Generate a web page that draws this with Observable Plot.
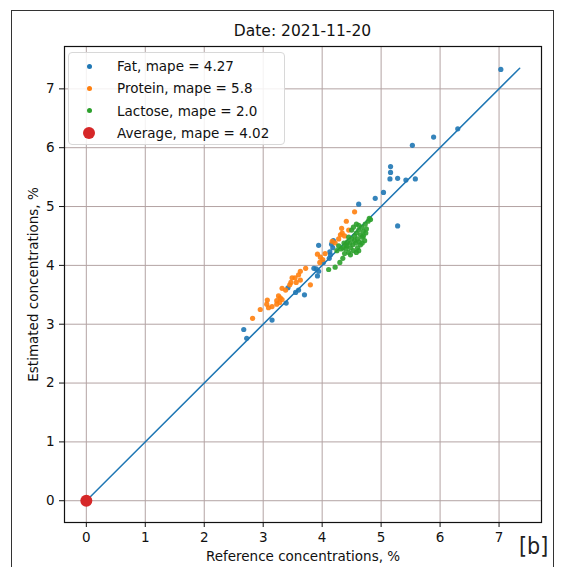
<!DOCTYPE html>
<html>
<head>
<meta charset="utf-8">
<script src="https://cdn.jsdelivr.net/npm/d3@7"></script>
<script src="https://cdn.jsdelivr.net/npm/@observablehq/plot@0.6"></script>
<style>
  html, body { margin: 0; padding: 0; background: #fff; }
  #wrap { position: relative; width: 565px; height: 567px; overflow: hidden; font-family: "DejaVu Sans", sans-serif; color: #111; }
  #border { position: absolute; left: 11px; top: 10px; width: 543px; height: 570px; border: 1.5px solid #333; box-sizing: border-box; }
  #title { position: absolute; left: 64px; width: 477px; top: 22px; text-align: center; font-size: 15.5px; }
  #legend { position: absolute; left: 68px; top: 52px; width: 217px; height: 93px; border: 1px solid #d8d8d8; border-radius: 4px; background: rgba(255,255,255,0.85); box-sizing: border-box; }
  .row { position: absolute; left: 0; height: 20px; font-size: 13.5px; line-height: 20px; }
  .row span.m { position: absolute; border-radius: 50%; }
  .row span.t { position: absolute; left: 48px; white-space: nowrap; }
  #tag { position: absolute; left: 519px; top: 533px; font-size: 23px; font-family: "DejaVu Sans Condensed", "DejaVu Sans", sans-serif; color: #222; }
  #chart { position: absolute; left: 0; top: 0; }
</style>
</head>
<body>
<div id="wrap">
  <div id="chart"></div>
  <div id="border"></div>
  <div id="title"></div>
  <div id="legend"></div>
  <div id="tag">[b]</div>
</div>
<script>
// ---- data ----
const title = "Date: 2021-11-20";
const xLabel = "Reference concentrations, %";
const yLabel = "Estimated concentrations, %";
const tickValues = [0, 1, 2, 3, 4, 5, 6, 7];

const seriesNames = ["Fat", "Protein", "Lactose", "Average"];
const seriesMape = ["4.27", "5.8", "2.0", "4.02"];
const seriesColors = ["#1f77b4", "#ff7f0e", "#2ca02c", "#d62728"];

const fatRef = [7.03, 6.30, 5.89, 5.53, 5.16, 5.16, 5.15, 5.28, 5.42, 5.58, 5.04, 4.90, 4.62, 5.28,
  3.94, 4.16, 4.19, 4.13, 4.14, 4.12, 3.86, 3.90, 3.94, 3.92, 3.70, 3.55, 3.42, 3.39, 3.15, 2.67, 2.72,
  4.02, 3.60, 4.18];
const fatEst = [7.33, 6.32, 6.18, 6.04, 5.68, 5.58, 5.47, 5.48, 5.45, 5.47, 5.24, 5.14, 5.04, 4.67,
  4.34, 4.36, 4.42, 4.23, 4.18, 4.12, 3.95, 3.94, 3.90, 3.82, 3.50, 3.54, 3.62, 3.36, 3.07, 2.91, 2.76,
  4.05, 3.58, 4.30];

const proteinRef = [4.55, 4.41, 4.33, 4.34, 4.31, 4.17, 3.92, 3.97, 4.01, 3.96, 4.05, 3.63, 3.60, 3.54,
  3.49, 3.56, 3.63, 3.45, 3.47, 3.80, 3.32, 3.26, 3.29, 3.23, 3.28, 3.32, 3.23, 3.07, 3.06, 3.09, 2.95,
  2.82, 4.28, 4.22, 3.72, 3.38, 3.15, 4.45, 4.38];
const proteinEst = [4.91, 4.75, 4.63, 4.55, 4.52, 4.41, 4.19, 4.14, 4.10, 4.05, 4.20, 3.90, 3.84, 3.79,
  3.79, 3.71, 3.75, 3.67, 3.71, 3.67, 3.61, 3.48, 3.45, 3.40, 3.37, 3.42, 3.34, 3.41, 3.34, 3.28, 3.25,
  3.10, 4.45, 4.38, 3.95, 3.58, 3.30, 4.60, 4.50];

const lactoseRef = [4.11, 4.22, 4.30, 4.35, 4.38, 4.40, 4.42, 4.45, 4.47, 4.48, 4.50, 4.52, 4.53, 4.55,
  4.55, 4.57, 4.58, 4.60, 4.60, 4.62, 4.63, 4.65, 4.65, 4.67, 4.68, 4.70, 4.72, 4.73, 4.75, 4.78, 4.80,
  4.82, 4.45, 4.43, 4.40, 4.35, 4.32, 4.50, 4.53, 4.58, 4.62, 4.70, 4.28, 4.37, 4.48, 4.58, 4.62, 4.68,
  4.74, 4.25];
const lactoseEst = [3.93, 3.97, 4.05, 4.12, 4.20, 4.28, 4.33, 4.22, 4.38, 4.30, 4.45, 4.35, 4.25, 4.42,
  4.50, 4.38, 4.55, 4.45, 4.30, 4.60, 4.40, 4.52, 4.35, 4.65, 4.48, 4.58, 4.42, 4.70, 4.62, 4.75, 4.80,
  4.78, 4.48, 4.40, 4.35, 4.30, 4.28, 4.60, 4.65, 4.70, 4.68, 4.50, 4.33, 4.38, 4.18, 4.22, 4.25, 4.38,
  4.55, 4.25];

const averageRef = [0];
const averageEst = [0];

const diagonal = [0, 7.35];
const domain = [-0.37, 7.72];

// ---- build ----
const toRows = (xs, ys) => xs.map((x, i) => ({x, y: ys[i]}));
const fat = toRows(fatRef, fatEst);
const protein = toRows(proteinRef, proteinEst);
const lactose = toRows(lactoseRef, lactoseEst);
const average = toRows(averageRef, averageEst);
const diag = toRows(diagonal, diagonal);

const chart = Plot.plot({
  width: 565,
  height: 567,
  marginLeft: 64,
  marginRight: 24,
  marginTop: 46,
  marginBottom: 45,
  style: {fontFamily: "DejaVu Sans, sans-serif", fontSize: "13px", color: "#111", background: "transparent"},
  x: {domain, ticks: tickValues},
  y: {domain, ticks: tickValues},
  marks: [
    Plot.gridX(tickValues, {stroke: "#b3a3a3", strokeOpacity: 1, strokeWidth: 1}),
    Plot.gridY(tickValues, {stroke: "#b3a3a3", strokeOpacity: 1, strokeWidth: 1}),
    Plot.line(diag, {x: "x", y: "y", stroke: seriesColors[0], strokeWidth: 1.5}),
    Plot.dot(fat, {x: "x", y: "y", r: 2.6, fill: seriesColors[0], fillOpacity: 0.9}),
    Plot.dot(protein, {x: "x", y: "y", r: 2.6, fill: seriesColors[1], fillOpacity: 0.9}),
    Plot.dot(lactose, {x: "x", y: "y", r: 2.6, fill: seriesColors[2], fillOpacity: 0.9}),
    Plot.dot(average, {x: "x", y: "y", r: 6, fill: seriesColors[3]}),
    Plot.frame({stroke: "#111", strokeWidth: 1.2}),
    Plot.axisX(tickValues, {tickSize: 5, tickPadding: 5, fontSize: 13.5, tickFormat: d3.format("d"), label: xLabel, labelAnchor: "center", labelArrow: "none", labelOffset: 38}),
    Plot.axisY(tickValues, {tickSize: 5, tickPadding: 5, fontSize: 13.5, tickFormat: d3.format("d"), label: yLabel, labelAnchor: "center", labelArrow: "none", labelOffset: 36})
  ]
});
document.getElementById("chart").appendChild(chart);
document.getElementById("title").textContent = title;

// legend
const legend = document.getElementById("legend");
seriesNames.forEach((name, i) => {
  const row = document.createElement("div");
  row.className = "row";
  row.style.top = (3 + i * 22.3) + "px";
  row.style.width = "215px";
  const m = document.createElement("span");
  m.className = "m";
  const size = i === 3 ? 12 : 5;
  m.style.width = size + "px";
  m.style.height = size + "px";
  m.style.left = (20 - size / 2) + "px";
  m.style.top = (10 - size / 2) + "px";
  m.style.background = seriesColors[i];
  const t = document.createElement("span");
  t.className = "t";
  t.textContent = `${name}, mape = ${seriesMape[i]}`;
  row.appendChild(m);
  row.appendChild(t);
  legend.appendChild(row);
});
</script>
</body>
</html>
